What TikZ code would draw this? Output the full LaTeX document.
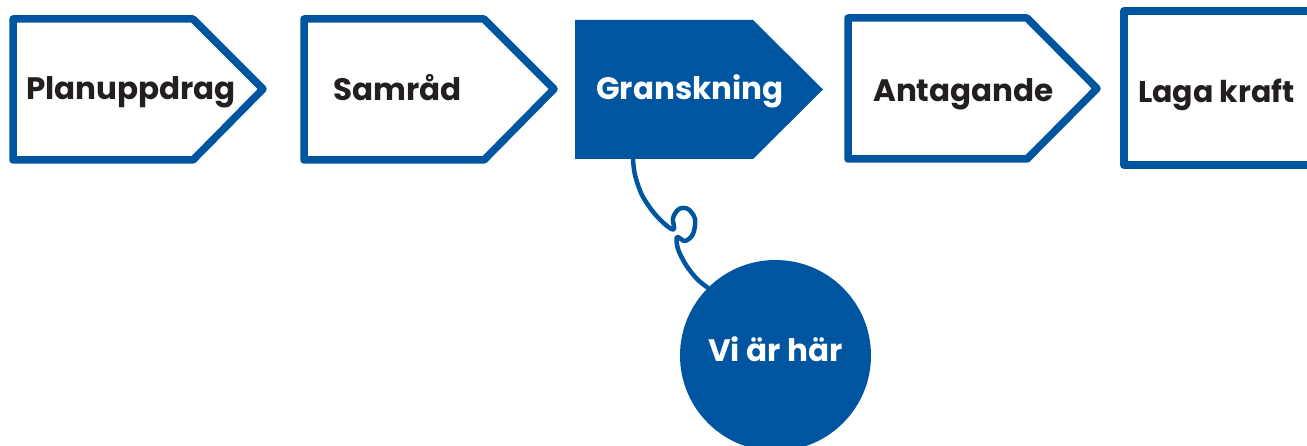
\documentclass[tikz,border=0pt]{standalone}
\usepackage{fontspec}
\setmainfont{Poppins}
\definecolor{pblue}{RGB}{0,85,160}
\definecolor{ptext}{RGB}{35,31,32}
\begin{document}
\begin{tikzpicture}[x=1pt,y=-1pt,
  stage/.style={draw=pblue,line width=7.5pt,line join=round,fill=white},
  current/.style={fill=pblue},
  lbl/.style={anchor=base west,inner sep=0pt,font=\fontsize{31}{36}\selectfont\bfseries,text=ptext},
  lblw/.style={lbl,text=white},
  string/.style={draw=pblue,line width=4.5pt,line cap=round,line join=round}]
\useasboundingbox (0,0) rectangle (1307,446);
% stage shapes
\draw[stage] (13,19) -- (193,19) -- (263,89) -- (193,160) -- (13,160) -- cycle;
\draw[stage] (304,19) -- (484,19) -- (554,89) -- (484,160) -- (304,160) -- cycle;
\fill[current] (575,20) -- (753,20) -- (823,89.5) -- (753,159) -- (575,159) -- cycle;
\draw[stage] (848,18) -- (1027,18) -- (1097,88.5) -- (1027,159) -- (848,159) -- cycle;
\draw[stage] (1124,11) rectangle (1330,165);
% labels
\node[lbl] (t1) at (26,100) {Planuppdrag};
\node[lbl] (t2) at (333,101) {Samråd};
\node[lblw] (t3) at (596,100) {Granskning};
\node[lbl] (t4) at (873,102) {Antagande};
\node[lbl,font=\fontsize{30}{35}\selectfont\bfseries] (t5) at (1138,103) {Laga kraft};
% marker circle
\node[circle,fill=pblue,minimum size=191pt,inner sep=0pt] (here) at (775.5,355.5) {};
\node[lblw,font=\fontsize{31}{36}\selectfont\bfseries] (hl) at (708,362) {Vi är här};
\coordinate (gs) at (633,159);
\draw[string] plot[smooth,tension=0.55] coordinates {
 (gs) (635,175) (642,195) (654,213) (667,226) (674,229)
 (673,218) (679,209) (688,209) (695,219) (693,234)
 (685,241) (677,237) (678,249) (686,265) (697,279) (here.135)};
\end{tikzpicture}
\end{document}
